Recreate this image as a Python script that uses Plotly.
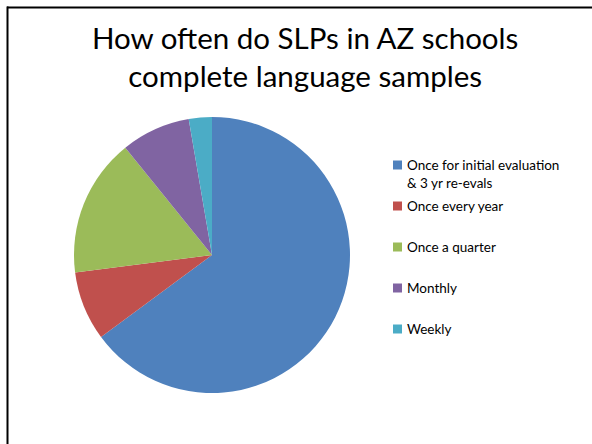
import plotly.graph_objects as go

categories = ["Once for initial evaluation<br>& 3 yr re-evals", "Once every year",
              "Once a quarter", "Monthly", "Weekly"]
values = [24, 3, 6, 3, 1]
colors = ["#4F81BD", "#C0504D", "#9BBB59", "#8064A2", "#4BACC6"]
title_text = "How often do SLPs in AZ schools<br>complete language samples"

W, H = 592, 444
FONT = "Lato, sans-serif"
fig = go.Figure()
fig.add_trace(go.Pie(
    labels=categories, values=values, sort=False, direction="clockwise",
    rotation=0, marker=dict(colors=colors, line=dict(width=0)),
    textinfo="none", hoverinfo="label+value+percent", showlegend=False,
    domain=dict(x=[(212 - 138) / W, (212 + 138) / W], y=[1 - 393 / H, 1 - 117 / H]),
))

# manual legend (marker squares + labels), laid out from the category list
leg_x0, leg_y0, leg_step, sq = 393, 165, 41, 9
shapes = []
annotations = []
for i, (c, col) in enumerate(zip(categories, colors)):
    yc = leg_y0 + i * leg_step
    shapes.append(dict(type="rect", xref="paper", yref="paper",
                       x0=leg_x0 / W, x1=(leg_x0 + sq) / W,
                       y0=1 - (yc + sq / 2) / H, y1=1 - (yc - sq / 2) / H,
                       fillcolor=col, line=dict(width=0)))
    annotations.append(dict(text=c, xref="paper", yref="paper", x=(leg_x0 + sq + 3) / W,
                            y=1 - (yc - 10) / H, xanchor="left", yanchor="top", align="left",
                            showarrow=False, font=dict(size=13.5, family=FONT, color="#000000")))

annotations.append(dict(text=title_text, xref="paper", yref="paper", x=305 / W, y=1 - 18 / H,
                        xanchor="center", yanchor="top", align="center", showarrow=False,
                        font=dict(size=29.5, family=FONT, color="#000000")))

shapes += [
    dict(type="line", xref="paper", yref="paper", x0=7 / W, x1=1.01, y0=1 - 7.5 / H, y1=1 - 7.5 / H,
         line=dict(color="black", width=2)),
    dict(type="line", xref="paper", yref="paper", x0=7.5 / W, x1=7.5 / W, y0=-0.01, y1=1 - 6.5 / H,
         line=dict(color="black", width=2)),
]

fig.update_layout(
    width=W, height=H, margin=dict(l=0, r=0, t=0, b=0),
    paper_bgcolor="white", plot_bgcolor="white",
    font=dict(family=FONT, color="#000000"),
    showlegend=False,
    annotations=annotations,
    shapes=shapes,
)
fig.write_html("out.html", config={"displayModeBar": False},
               post_script="document.body.style.margin='0';document.body.style.overflow='hidden';")
